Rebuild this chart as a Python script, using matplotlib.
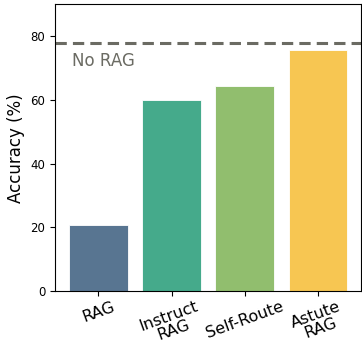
import matplotlib
matplotlib.use("Agg")
import matplotlib.pyplot as plt

methods = ["RAG", "Instruct\nRAG", "Self-Route", "Astute\nRAG"]
accuracy = [20.7, 60.0, 64.5, 75.7]
no_rag = 77.9
colors = ["#587591", "#45aa8b", "#91be6e", "#f7c652"]

fig = plt.figure(figsize=(3.62, 3.48), dpi=100)
ax = fig.add_axes([0.152, 0.163, 0.846, 0.825])

x = range(len(methods))
ax.bar(x, accuracy, width=0.8, color=colors, edgecolor="white", linewidth=0.6)
ax.axhline(no_rag, color="#6b6b63", linestyle="--", linewidth=2.2, dashes=(3.7, 2))
ax.text(-0.36, 72.3, "No RAG", fontsize=12, color="#6b6b63", va="center", ha="left")

ax.set_ylim(0, 90)
ax.set_yticks([0, 20, 40, 60, 80])
ax.set_xticks(list(x))
ax.set_xticklabels(methods, rotation=20, fontsize=11.5, linespacing=0.95)
ax.tick_params(axis="x", pad=2)
ax.tick_params(axis="y", labelsize=8.5)
ax.set_ylabel("Accuracy (%)", fontsize=12)

plt.savefig("out.png", dpi=100)
